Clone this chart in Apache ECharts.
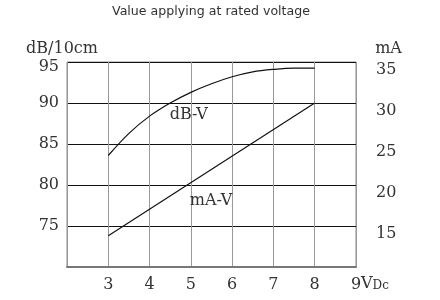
<!DOCTYPE html>
<html>
<head>
<meta charset="utf-8">
<script src="https://cdn.jsdelivr.net/npm/echarts@6/dist/echarts.min.js"></script>
<style>html,body{margin:0;padding:0;background:#fff;}#c{width:440px;height:300px;}</style>
</head>
<body>
<div id="c"></div>
<script>
const titleText = 'Value applying at rated voltage';
const xTicks = [3, 4, 5, 6, 7, 8, 9];
const dbVolts = [3, 3.5, 4, 4.5, 5, 5.5, 6, 6.5, 7, 7.5, 8];
const dbValues = [83.6, 86.3, 88.4, 90.0, 91.3, 92.35, 93.2, 93.8, 94.1, 94.25, 94.25];
const maVolts = [3, 8];
const maValues = [13.8, 30];
const dbTicks = [75, 80, 85, 90, 95];
const maTicks = [15, 20, 25, 30, 35];
const dbLabel = 'dB-V';
const maLabel = 'mA-V';

const serif = 'DejaVu Serif';
const txt = '#333';
const chart = echarts.init(document.getElementById('c'), null, {renderer: 'canvas'});
chart.setOption({
  animation: false,
  backgroundColor: '#fff',
  title: {
    text: titleText, left: 107, top: 0,
    textStyle: {fontFamily: 'DejaVu Sans', fontSize: 12.6, fontWeight: 'normal', color: '#333'}
  },
  grid: {left: 67, right: 84, top: 62, bottom: 33, show: true, borderColor: '#8a8a8a', borderWidth: 1},
  xAxis: {
    type: 'value', min: 2, max: 9, interval: 1,
    name: '{v|V}{s|Dc}', nameLocation: 'end', nameGap: 5, nameMoveOverlap: false,
    nameTextStyle: {
      verticalAlign: 'top', padding: [7, 0, 0, 0],
      rich: {
        v: {fontFamily: serif, fontSize: 16, color: txt, lineHeight: 18, verticalAlign: 'bottom'},
        s: {fontFamily: serif, fontSize: 12, color: txt, lineHeight: 10, verticalAlign: 'bottom'}
      }
    },
    axisLine: {show: true, lineStyle: {color: '#777', width: 2}},
    axisTick: {show: false},
    axisLabel: {
      showMinLabel: false, margin: 10, fontFamily: serif, fontSize: 16, color: txt,
      formatter: v => xTicks.includes(v) ? String(v) : ''
    },
    splitLine: {show: true, lineStyle: {color: '#999', width: 1}}
  },
  yAxis: [{
    type: 'value', min: 70, max: 95, interval: 5, position: 'left',
    name: 'dB/10cm', nameLocation: 'end', nameGap: 5,
    nameTextStyle: {fontFamily: serif, fontSize: 16, color: txt, padding: [0, 10, 0, 0]},
    axisLine: {show: false}, axisTick: {show: false},
    axisLabel: {
      showMinLabel: false, margin: 8, fontFamily: serif, fontSize: 16, color: txt,
      formatter: v => dbTicks.includes(v) ? (v === 95 ? '{t|' + v + '}' : String(v)) : '',
      rich: {t: {fontFamily: serif, fontSize: 16, color: txt, padding: [9, 0, 0, 0]}}
    },
    splitLine: {show: true, showMinLine: false, lineStyle: {color: '#111', width: 1}}
  }, {
    type: 'value', min: 10, max: 35, interval: 5, position: 'right',
    name: 'mA', nameLocation: 'end', nameGap: 5,
    nameTextStyle: {fontFamily: serif, fontSize: 16, color: txt, padding: [0, 0, 0, 65]},
    axisLine: {show: false}, axisTick: {show: false},
    axisLabel: {
      showMinLabel: false, margin: 20, fontFamily: serif, fontSize: 16, color: txt,
      formatter: v => maTicks.includes(v) ? '{r|' + v + '}' : '',
      rich: {r: {fontFamily: serif, fontSize: 16, color: txt, padding: [15, 0, 0, 0]}}
    },
    splitLine: {show: false}
  }],
  series: [{
    type: 'line', yAxisIndex: 0, smooth: 0.35, symbol: 'none',
    data: dbVolts.map((x, i) => [x, dbValues[i]]),
    lineStyle: {color: '#111', width: 1.2},
    markPoint: {
      symbol: 'circle', symbolSize: 0, silent: true,
      label: {show: true, position: 'inside', formatter: dbLabel, fontFamily: serif, fontSize: 16, color: txt},
      data: [{coord: [4.95, 88.5]}]
    }
  }, {
    type: 'line', yAxisIndex: 1, symbol: 'none',
    data: maVolts.map((x, i) => [x, maValues[i]]),
    lineStyle: {color: '#111', width: 1.2},
    markPoint: {
      symbol: 'circle', symbolSize: 0, silent: true,
      label: {show: true, position: 'inside', formatter: maLabel, fontFamily: serif, fontSize: 16, color: txt},
      data: [{coord: [5.49, 18.05]}]
    }
  }]
});
</script>
</body>
</html>
